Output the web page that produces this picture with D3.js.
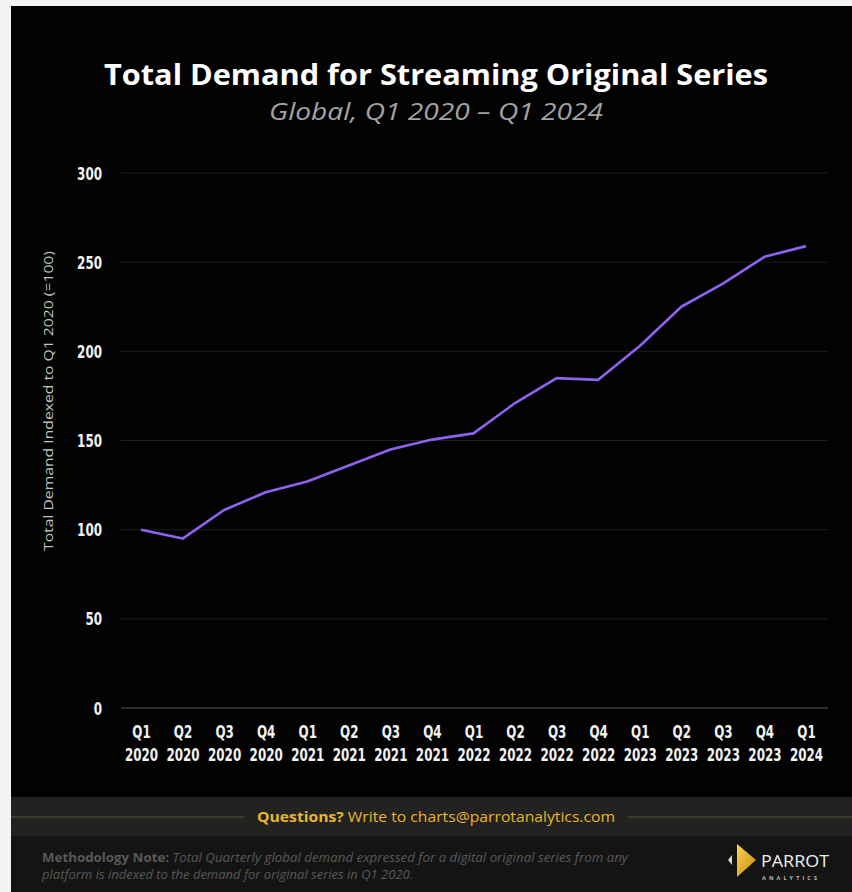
<!DOCTYPE html>
<html>
<head>
<meta charset="utf-8">
<script src="https://cdn.jsdelivr.net/npm/d3@7"></script>
<style>
  html, body { margin: 0; padding: 0; background: #f3f4f6; }
  svg { display: block; }
</style>
</head>
<body>
<svg id="chart" width="852" height="892"></svg>
<script>
// Quarterly index of total demand for streaming original series (Q1 2020 = 100)
const quarters = ["Q1","Q2","Q3","Q4","Q1","Q2","Q3","Q4","Q1","Q2","Q3","Q4","Q1","Q2","Q3","Q4","Q1"];
const years    = ["2020","2020","2020","2020","2021","2021","2021","2021","2022","2022","2022","2022","2023","2023","2023","2023","2024"];
const demandIndex = [100, 95, 111, 121, 127, 136, 145, 150.5, 154, 171, 185, 184, 203, 225, 238, 253, 259];
const yTicks = [0, 50, 100, 150, 200, 250, 300];

const W = 852, H = 892;
const svg = d3.select("#chart");
const sans = "'Open Sans', Lato, sans-serif";

// Page background and panels
svg.append("rect").attr("width", W).attr("height", H).attr("fill", "#f3f4f6");
svg.append("rect").attr("x", 11).attr("y", 6).attr("width", W - 11).attr("height", 792).attr("fill", "#020202");
svg.append("rect").attr("x", 11).attr("y", 797).attr("width", W - 11).attr("height", 40).attr("fill", "#222220");
svg.append("rect").attr("x", 11).attr("y", 836).attr("width", W - 11).attr("height", H - 836).attr("fill", "#141414");

// Titles
svg.append("text")
  .attr("x", 436).attr("y", 85)
  .attr("text-anchor", "middle")
  .attr("fill", "#ffffff")
  .attr("font-family", sans)
  .attr("font-weight", 700)
  .attr("font-size", 28)
  .attr("textLength", 664)
  .attr("lengthAdjust", "spacingAndGlyphs")
  .text("Total Demand for Streaming Original Series");

svg.append("text")
  .attr("x", 436).attr("y", 120)
  .attr("text-anchor", "middle")
  .attr("fill", "#a3a3a3")
  .attr("font-family", sans)
  .attr("font-style", "italic")
  .attr("font-size", 23)
  .attr("textLength", 334)
  .attr("lengthAdjust", "spacingAndGlyphs")
  .text("Global, Q1 2020 \u2013 Q1 2024");

// Scales
const x = d3.scalePoint().domain(d3.range(quarters.length)).range([141, 806]);
const y = d3.scaleLinear().domain([0, 300]).range([708, 173]);

// Horizontal gridlines
const grid = svg.append("g");
grid.selectAll("line").data(yTicks).join("line")
  .attr("x1", 121).attr("x2", 828)
  .attr("y1", d => y(d)).attr("y2", d => y(d))
  .attr("stroke", d => d === 0 ? "#3a3a3a" : "#1e1e1e")
  .attr("stroke-width", d => d === 0 ? 1.5 : 1);

// Condensed bold tick labels, narrowed horizontally
const tickFont = "'DejaVu Sans Condensed', 'DejaVu Sans', sans-serif";
function styleTick(sel) {
  sel.attr("fill", "#f2f2f2")
    .attr("font-family", tickFont)
    .attr("font-weight", 700)
    .attr("font-stretch", "condensed")
    .attr("font-size", 17);
}

// Y axis tick labels
const yAxis = svg.append("g").attr("transform", "translate(102,0)")
  .call(d3.axisLeft(y).tickValues(yTicks).tickSize(0).tickPadding(0));
yAxis.select(".domain").remove();
yAxis.selectAll(".tick text")
  .call(styleTick)
  .attr("x", 0)
  .attr("dy", "0.36em")
  .attr("transform", "scale(0.78,1)");

// X axis tick labels (two lines: quarter and year)
const xAxis = svg.append("g").attr("transform", "translate(0,708)")
  .call(d3.axisBottom(x).tickSize(0).tickFormat(() => ""));
xAxis.select(".domain").remove();
xAxis.selectAll(".tick text").remove();
xAxis.selectAll(".tick").each(function(d) {
  const t = d3.select(this).append("text")
    .attr("text-anchor", "middle")
    .attr("transform", "scale(0.78,1)")
    .call(styleTick);
  t.append("tspan").attr("x", 0).attr("y", 30).text(quarters[d]);
  t.append("tspan").attr("x", 0).attr("y", 53).text(years[d]);
});

// Y axis title
svg.append("text")
  .attr("transform", "translate(53,401) rotate(-90)")
  .attr("text-anchor", "middle")
  .attr("fill", "#c4c4c4")
  .attr("font-family", sans)
  .attr("font-size", 13)
  .attr("textLength", 300)
  .attr("lengthAdjust", "spacingAndGlyphs")
  .text("Total Demand Indexed to Q1 2020 (=100)");

// Demand line
const line = d3.line()
  .x((d, i) => x(i))
  .y(d => y(d));
svg.append("path")
  .datum(demandIndex)
  .attr("d", line)
  .attr("fill", "none")
  .attr("stroke", "#8e62ee")
  .attr("stroke-width", 2.6)
  .attr("stroke-linejoin", "round");

// Footer: contact line
svg.append("line").attr("x1", 11).attr("x2", 244).attr("y1", 817).attr("y2", 817)
  .attr("stroke", "#5c5434").attr("stroke-width", 1.2);
svg.append("line").attr("x1", 628).attr("x2", W).attr("y1", 817).attr("y2", 817)
  .attr("stroke", "#5c5434").attr("stroke-width", 1.2);
const q = svg.append("text")
  .attr("x", 436).attr("y", 822)
  .attr("text-anchor", "middle")
  .attr("fill", "#e9b62c")
  .attr("font-family", sans)
  .attr("font-size", 15)
  .attr("textLength", 358)
  .attr("lengthAdjust", "spacingAndGlyphs");
q.append("tspan").attr("font-weight", 700).text("Questions?");
q.append("tspan").text(" Write to charts@parrotanalytics.com");

// Footer: methodology note
const noteStyle = sel => sel
  .attr("fill", "#595959")
  .attr("font-family", sans)
  .attr("font-size", 12.5)
  .attr("lengthAdjust", "spacingAndGlyphs");
const l1 = svg.append("text").call(noteStyle)
  .attr("x", 42).attr("y", 862).attr("textLength", 586);
l1.append("tspan").attr("font-weight", 700).text("Methodology Note:");
l1.append("tspan").attr("font-style", "italic").text(" Total Quarterly global demand expressed for a digital original series from any");
svg.append("text").call(noteStyle)
  .attr("x", 42).attr("y", 879).attr("textLength", 371)
  .attr("font-style", "italic")
  .text("platform is indexed to the demand for original series in Q1 2020.");

// Footer: logo
const logo = svg.append("g").attr("transform", "translate(724,844)");
const grad = svg.append("defs").append("linearGradient").attr("id", "gold")
  .attr("x1", "0").attr("y1", "0").attr("x2", "1").attr("y2", "1");
grad.append("stop").attr("offset", "0%").attr("stop-color", "#ffd34d");
grad.append("stop").attr("offset", "100%").attr("stop-color", "#c68a12");
logo.append("path").attr("d", "M4,16 L8,11 L8,21 Z").attr("fill", "#d8d8d8");
logo.append("path").attr("d", "M13,0 L32,16 L13,33 Z").attr("fill", "url(#gold)");
logo.append("text").attr("x", 37).attr("y", 23)
  .attr("fill", "#f0f0f0")
  .attr("font-family", sans)
  .attr("font-size", 17)
  .attr("textLength", 68)
  .attr("lengthAdjust", "spacingAndGlyphs")
  .text("PARROT");
logo.append("text").attr("x", 38).attr("y", 36)
  .attr("fill", "#bdbdbd")
  .attr("font-family", sans)
  .attr("font-weight", 700)
  .attr("font-size", 5.5)
  .attr("textLength", 55)
  .text("ANALYTICS");
</script>
</body>
</html>
